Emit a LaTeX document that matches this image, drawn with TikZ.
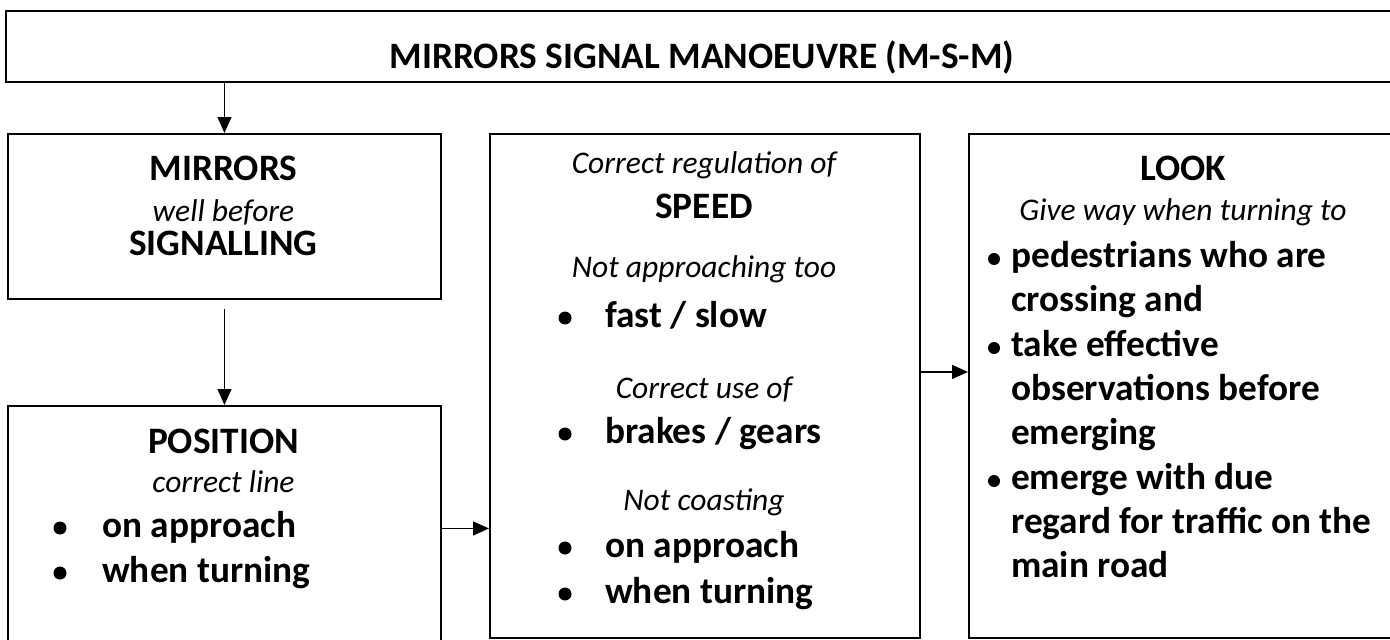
\documentclass[tikz,border=0pt]{standalone}
\usepackage{fontspec}
\setmainfont{Carlito}
\usetikzlibrary{arrows.meta,positioning}

\begin{document}
\begin{tikzpicture}[x=1pt,y=-1pt,
    box/.style={draw,line width=1.9pt,inner sep=0pt,anchor=north west},
    hd/.style={anchor=base,inner sep=0pt,font=\fontsize{37.3}{44}\selectfont\bfseries},
    it/.style={anchor=base,inner sep=0pt,font=\fontsize{31.5}{38}\selectfont\itshape},
    bt/.style={anchor=base west,inner sep=0pt,font=\fontsize{37.3}{44}\selectfont\bfseries},
    dot/.style={circle,fill=black,inner sep=0pt,minimum size=13pt},
    arr/.style={-{Triangle[length=16pt,width=14pt]},line width=1.3pt}
  ]
    \useasboundingbox (0,0) rectangle (1390,640);

    % boxes
    \node[box,minimum width=1395pt,minimum height=71pt] (msm) at (5,10) {};
    \node[box,minimum width=433pt,minimum height=165pt] (mirrors) at (7,133) {};
    \node[box,minimum width=433pt,minimum height=245pt] (position) at (7,405) {};
    \node[box,minimum width=430pt,minimum height=504pt] (speed) at (489,133) {};
    \node[box,minimum width=430pt,minimum height=504pt] (look) at (968,133) {};

    % title
    \node[hd] (msmT) at (702,68) {MIRRORS SIGNAL MANOEUVRE (M-S-M)};

    % mirrors
    \node[hd] (mirT) at (223.5,180) {MIRRORS};
    \node[it] (mirS) at (223.5,221) {well before};
    \node[hd] (mirU) at (223.5,255) {SIGNALLING};

    % position
    \node[hd] (posT) at (223.5,453) {POSITION};
    \node[it] (posS) at (223.5,492) {correct line};
    \node[dot] (posB1) at (60,528) {};
    \node[bt] (posI1) at (102,537) {on approach};
    \node[dot] (posB2) at (60,573) {};
    \node[bt] (posI2) at (102,582) {when turning};

    % speed
    \node[it] (spdS1) at (704,173) {Correct regulation of};
    \node[hd] (spdT) at (704,218) {SPEED};
    \node[it] (spdS2) at (704,277) {Not approaching too};
    \node[dot] (spdB1) at (565,318) {};
    \node[bt] (spdI1) at (605,327) {fast / slow};
    \node[it] (spdS3) at (704,398) {Correct use of};
    \node[dot] (spdB2) at (565,434) {};
    \node[bt] (spdI2) at (605,443) {brakes / gears};
    \node[it] (spdS4) at (704,510) {Not coasting};
    \node[dot] (spdB3) at (565,548) {};
    \node[bt] (spdI3) at (605,557) {on approach};
    \node[dot] (spdB4) at (565,594) {};
    \node[bt] (spdI4) at (605,603) {when turning};

    % look
    \node[hd] (lookT) at (1183,180) {LOOK};
    \node[it] (lookS) at (1183,220) {Give way when turning to};
    \node[dot,minimum size=12pt] (lookB1) at (994,259) {};
    \node[bt] (lookI1) at (1011,267) {pedestrians who are};
    \node[bt] (lookI1b) at (1011,311) {crossing and};
    \node[dot,minimum size=12pt] (lookB2) at (994,348) {};
    \node[bt] (lookI2) at (1011,356) {take effective};
    \node[bt] (lookI2b) at (1011,400) {observations before};
    \node[bt] (lookI2c) at (1011,444) {emerging};
    \node[dot,minimum size=12pt] (lookB3) at (994,481) {};
    \node[bt] (lookI3) at (1011,489) {emerge with due};
    \node[bt] (lookI3b) at (1011,533) {regard for traffic on the};
    \node[bt] (lookI3c) at (1011,577) {main road};

    % arrows
    \draw[arr] (msm.south -| mirrors.north) -- (mirrors.north);
    \draw[arr] ([yshift=-9pt]mirrors.south) -- (position.north);
    \draw[arr] (position.east) -- (position.east -| speed.west);
    \draw[arr] ([yshift=14pt]speed.east) -- ([yshift=14pt]look.west);
  \end{tikzpicture}
\end{document}
